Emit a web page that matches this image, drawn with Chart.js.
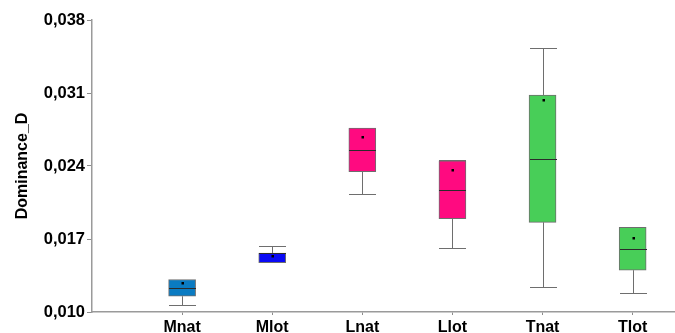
<!DOCTYPE html>
<html>
<head>
<meta charset="utf-8">
<script src="https://cdn.jsdelivr.net/npm/chart.js@4"></script>
<style>
  html, body { margin: 0; padding: 0; background: #fff; }
  #wrap { width: 675px; height: 333px; }
</style>
</head>
<body>
<div id="wrap"><canvas id="boxChart"></canvas></div>
<script>
// dominance (D) per group
const groups = ['Mnat', 'Mlot', 'Lnat', 'Llot', 'Tnat', 'Tlot'];
const whiskerLow  = [0.01071, 0.01473, 0.02129, 0.01615, 0.01238, 0.01183];
const q1          = [0.01151, 0.01473, 0.02346, 0.01894, 0.01860, 0.01401];
const medians     = [0.01231, 0.01566, 0.02552, 0.02167, 0.02465, 0.01600];
const q3          = [0.01312, 0.01566, 0.02763, 0.02449, 0.03081, 0.01812];
const whiskerHigh = [0.01312, 0.01632, 0.02763, 0.02462, 0.03533, 0.01812];
const means       = [0.01276, 0.01538, 0.02680, 0.02363, 0.03029, 0.01706];
const yTicks = [0.010, 0.017, 0.024, 0.031, 0.038];

const boxColors = ['#0a7bc2', '#0a0af5', '#ff0a80', '#ff0a80', '#48ce58', '#48ce58'];
const BOX_W = 27;

// whiskers, caps, median and mean marks on top of the floating bars
const boxExtras = {
  id: 'boxExtras',
  afterDatasetsDraw(chart) {
    const { ctx, scales: { x, y } } = chart;
    ctx.save();
    groups.forEach((g, i) => {
      const cx = Math.round(x.getPixelForValue(i + 1)) + 0.5;
      const half = BOX_W / 2;
      const yq1 = y.getPixelForValue(q1[i]);
      const yq3 = y.getPixelForValue(q3[i]);
      const ylo = Math.round(y.getPixelForValue(whiskerLow[i])) + 0.5;
      const yhi = Math.round(y.getPixelForValue(whiskerHigh[i])) + 0.5;

      ctx.strokeStyle = '#6e6e6e';
      ctx.lineWidth = 1;
      ctx.beginPath();
      if (whiskerLow[i] < q1[i]) {
        ctx.moveTo(cx, yq1); ctx.lineTo(cx, ylo);
        ctx.moveTo(cx - half, ylo); ctx.lineTo(cx + half, ylo);
      }
      if (whiskerHigh[i] > q3[i]) {
        ctx.moveTo(cx, yq3); ctx.lineTo(cx, yhi);
        ctx.moveTo(cx - half, yhi); ctx.lineTo(cx + half, yhi);
      }
      ctx.stroke();

      const ym = Math.round(y.getPixelForValue(medians[i])) + 0.5;
      ctx.strokeStyle = '#2b2b2b';
      ctx.beginPath();
      ctx.moveTo(cx - half, ym); ctx.lineTo(cx + half, ym);
      ctx.stroke();

      const yMean = Math.round(y.getPixelForValue(means[i]));
      ctx.fillStyle = '#000';
      ctx.fillRect(cx - 1, yMean - 1, 2.5, 2.5);
    });
    ctx.restore();
  }
};

const ctx = document.getElementById('boxChart');

new Chart(ctx,
{
    type: 'bar',
    data:
    {
        datasets: [
            {
                label: 'Dominance_D',
                data: groups.map((g, i) => ({ x: i + 1, y: [q1[i], q3[i]] })),
                backgroundColor: boxColors,
                borderColor: '#6e6e6e',
                borderWidth: 1,
                borderSkipped: false,
                barThickness: BOX_W
            }
        ]
    },
    options:
    {
        responsive: true,
        maintainAspectRatio: false,
        animation: false,
        layout: { padding: { top: 20, right: 0, bottom: 0, left: 0 } },
        plugins:
        {
            legend: { display: false },
            tooltip: { enabled: false }
        },
        scales:
        {
            x:
            {
                type: 'linear',
                min: 0,
                max: 6.47,
                offset: false,
                afterBuildTicks: (scale) => {
                    scale.ticks = groups.map((g, i) => ({ value: i + 1 }));
                },
                afterFit: (scale) => { scale.height = 21; },
                grid: { offset: false, drawOnChartArea: false, drawTicks: true, tickLength: 3, color: '#8c8c8c' },
                border: { color: '#9a9a9a', width: 1.5 },
                ticks:
                {
                    autoSkip: false,
                    maxRotation: 0,
                    padding: 3,
                    color: '#000',
                    font: { family: 'Liberation Sans', size: 16, weight: 'bold' },
                    callback: (v) => groups[v - 1]
                }
            },
            y:
            {
                min: 0.010,
                max: 0.038,
                afterBuildTicks: (scale) => {
                    scale.ticks = yTicks.map(v => ({ value: v }));
                },
                afterFit: (scale) => { scale.width = 92; },
                grid: { drawOnChartArea: false, drawTicks: true, tickLength: 5, color: '#8c8c8c' },
                border: { color: '#9a9a9a', width: 1.5 },
                title:
                {
                    display: true,
                    text: 'Dominance_D',
                    color: '#000',
                    padding: { top: 13, bottom: 0 },
                    font: { family: 'Liberation Sans', size: 16, weight: 'bold' }
                },
                ticks:
                {
                    padding: 2,
                    color: '#000',
                    font: { family: 'Liberation Sans', size: 16.5, weight: 'bold' },
                    callback: (v) => v.toFixed(3).replace('.', ',')
                }
            }
        }
    },
    plugins: [boxExtras]
});
</script>
</body>
</html>
